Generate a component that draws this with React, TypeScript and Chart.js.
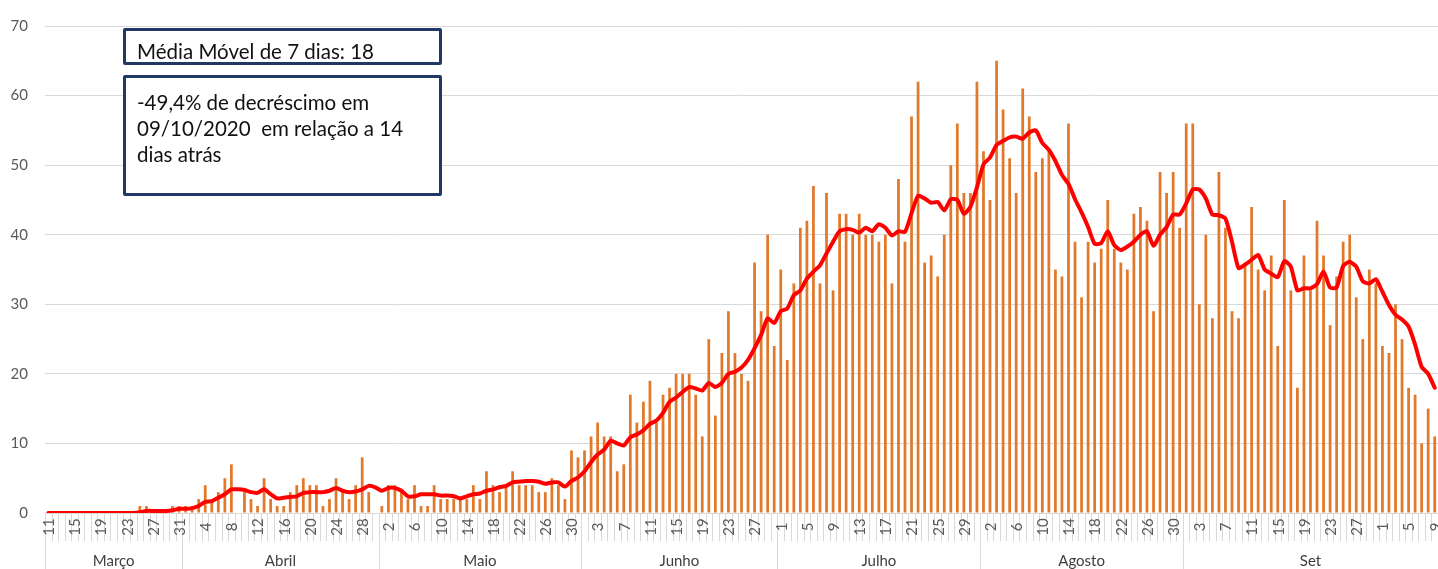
import { useEffect, useRef } from 'react';
import { Chart, registerables } from 'chart.js';

Chart.register(...registerables);

// Month groups on the lower axis band, with day ranges of each group
const groupNames = ['Março', 'Abril', 'Maio', 'Junho', 'Julho', 'Agosto', 'Set'];
const groupRanges: number[][][] = [
  [[11, 31]],
  [[1, 30]],
  [[1, 31]],
  [[1, 30]],
  [[1, 31]],
  [[1, 31]],
  [[1, 30], [1, 9]],
];
const dayLabelStep = 4;

// Daily values (bars)
const casesMar = [0, 0, 0, 0, 0, 0, 0, 0, 0, 0, 0, 0, 0, 0, 1, 1, 0, 0, 0, 1, 1];
const casesApr = [1, 1, 2, 4, 2, 3, 5, 7, 0, 3, 2, 1, 5, 2, 1, 1, 3, 4, 5, 4, 4, 1, 2, 5, 3, 2, 4, 8, 3, 0];
const casesMay = [1, 4, 4, 3, 2, 4, 1, 1, 4, 2, 2, 2, 2, 2, 4, 2, 6, 4, 3, 4, 6, 4, 4, 4, 3, 3, 5, 4, 2, 9, 8];
const casesJun = [9, 11, 13, 11, 11, 6, 7, 17, 13, 16, 19, 13, 17, 18, 20, 20, 20, 17, 11, 25, 14, 23, 29, 23, 20, 19, 36, 29, 40, 24];
const casesJul = [35, 22, 33, 41, 42, 47, 33, 46, 32, 43, 43, 40, 43, 40, 40, 39, 40, 33, 48, 39, 57, 62, 36, 37, 34, 40, 50, 56, 46, 46, 62];
const casesAug = [52, 45, 65, 58, 51, 46, 61, 57, 49, 51, 52, 35, 34, 56, 39, 31, 39, 36, 38, 45, 38, 36, 35, 43, 44, 42, 29, 49, 46, 49, 41];
const casesSep = [56, 56, 30, 40, 28, 49, 41, 29, 28, 36, 44, 35, 32, 37, 24, 45, 32, 18, 37, 32, 42, 37, 27, 34, 39, 40, 31, 25, 35, 33];
const casesOct = [24, 23, 30, 25, 18, 17, 10, 15, 11];

// 7-day moving average (red line)
const maMar = [0, 0, 0, 0, 0, 0, 0, 0, 0, 0, 0, 0, 0, 0, 0.1, 0.3, 0.3, 0.3, 0.3, 0.4, 0.6];
const maApr = [0.6, 0.7, 1.0, 1.6, 1.7, 2.2, 2.7, 3.4, 3.4, 3.3, 3.0, 2.9, 3.4, 2.7, 2.1, 2.2, 2.3, 2.4, 2.9, 3.0, 3.0, 3.0, 3.2, 3.6, 3.2, 3.0, 3.1, 3.4, 3.9, 3.7];
const maMay = [3.2, 3.6, 3.6, 3.2, 2.4, 2.4, 2.7, 2.7, 2.7, 2.5, 2.5, 2.4, 2.1, 2.4, 2.7, 2.8, 3.2, 3.4, 3.7, 3.9, 4.4, 4.5, 4.6, 4.6, 4.5, 4.2, 4.4, 4.4, 3.8, 4.6, 5.1];
const maJun = [6.0, 7.3, 8.4, 9.1, 10.4, 10.0, 9.7, 10.9, 11.3, 11.9, 12.8, 13.3, 14.4, 16.0, 16.6, 17.4, 18.1, 17.9, 17.6, 18.7, 18.1, 18.7, 20.0, 20.3, 20.9, 22.0, 23.7, 25.6, 28.0, 27.3];
const maJul = [29.0, 29.4, 31.3, 32.0, 33.7, 34.7, 35.6, 37.3, 39.0, 40.5, 40.8, 40.7, 40.3, 41.0, 40.5, 41.5, 41.0, 39.9, 40.5, 40.4, 43.1, 45.6, 45.2, 44.6, 44.7, 43.5, 45.1, 45.0, 43.0, 44.0, 46.8];
const maAug = [50.1, 51.1, 52.9, 53.5, 54.0, 54.1, 53.8, 54.7, 55.0, 53.2, 52.2, 50.6, 48.6, 47.3, 45.1, 43.2, 41.1, 38.7, 38.8, 40.5, 38.5, 37.8, 38.3, 39.0, 40.0, 40.5, 38.4, 40.0, 41.1, 42.9, 42.9];
const maSep = [44.5, 46.5, 46.5, 45.2, 42.9, 42.8, 42.3, 39.0, 35.2, 35.7, 36.4, 37.1, 35.0, 34.4, 33.9, 36.2, 35.4, 32.0, 32.3, 32.3, 32.9, 34.7, 32.4, 32.4, 35.5, 36.1, 35.4, 33.3, 33.0, 33.6];
const maOct = [31.8, 29.9, 28.5, 27.8, 26.8, 24.2, 21.0, 20.0, 18.0];

const yMin = 0;
const yMax = 70;
const yStep = 10;

const boxTitle = 'Média Móvel de 7 dias: 18';
const boxLines = ['-49,4% de decréscimo em', '09/10/2020  em relação a 14', 'dias atrás'];

const cases = [...casesMar, ...casesApr, ...casesMay, ...casesJun, ...casesJul, ...casesAug, ...casesSep, ...casesOct];
const movingAvg = [...maMar, ...maApr, ...maMay, ...maJun, ...maJul, ...maAug, ...maSep, ...maOct];

const categories: string[] = [];
const groupOf: number[] = [];
groupRanges.forEach((ranges, g) => {
  ranges.forEach(([a, b]) => {
    for (let d = a; d <= b; d++) {
      categories.push(String(d));
      groupOf.push(g);
    }
  });
});

const FONT = 'Lato, "Open Sans", sans-serif';
const AXIS_H = 56;
const DAY_BAND = 28;

const twoLevelAxis = {
  id: 'twoLevelAxis',
  afterDraw(chart: any) {
    const { ctx, chartArea } = chart;
    const xs = chart.scales.x;
    const n = categories.length;
    const w = (chartArea.right - chartArea.left) / n;
    const top = chartArea.bottom;
    ctx.save();
    ctx.strokeStyle = '#d9d9d9';
    ctx.lineWidth = 1;
    for (let i = 0; i <= n; i++) {
      const xx = Math.round(chartArea.left + i * w) + 0.5;
      ctx.beginPath();
      ctx.moveTo(xx, top);
      ctx.lineTo(xx, top + DAY_BAND);
      ctx.stroke();
    }
    // month separators
    const bounds: number[] = [0];
    for (let i = 1; i < n; i++) if (groupOf[i] !== groupOf[i - 1]) bounds.push(i);
    bounds.push(n);
    bounds.forEach((b) => {
      const xx = Math.round(chartArea.left + b * w) + 0.5;
      ctx.beginPath();
      ctx.moveTo(xx, top);
      ctx.lineTo(xx, top + AXIS_H);
      ctx.stroke();
    });
    // day labels
    ctx.fillStyle = '#595959';
    ctx.font = `15px ${FONT}`;
    ctx.textAlign = 'center';
    ctx.textBaseline = 'middle';
    for (let i = 0; i < n; i += dayLabelStep) {
      const cx = xs.getPixelForValue(i);
      ctx.save();
      ctx.translate(cx + 1, top + 14);
      ctx.rotate(-Math.PI / 2);
      ctx.fillText(categories[i], 0, 0);
      ctx.restore();
    }
    // month labels
    ctx.fillStyle = '#404040';
    ctx.font = `15px ${FONT}`;
    for (let k = 0; k < bounds.length - 1; k++) {
      const a = chartArea.left + bounds[k] * w;
      const b = chartArea.left + bounds[k + 1] * w;
      ctx.fillText(groupNames[groupOf[bounds[k]]], (a + b) / 2, top + 48);
    }
    ctx.restore();
  },
};

export default function App() {
  const ref = useRef<HTMLCanvasElement | null>(null);
  useEffect(() => {
    if (!ref.current) return;
    const chart = new Chart(ref.current, {
      type: 'bar',
      data: {
        labels: categories,
        datasets: [
          {
            type: 'line',
            data: movingAvg,
            borderColor: '#FF0000',
            borderWidth: 4,
            pointRadius: 0,
            tension: 0.2,
            borderJoinStyle: 'round',
            borderCapStyle: 'round',
            order: 1,
          } as any,
          {
            type: 'bar',
            data: cases,
            backgroundColor: '#E2792A',
            barPercentage: 0.42,
            categoryPercentage: 1,
            order: 2,
          },
        ],
      },
      options: {
        responsive: false,
        animation: false,
        layout: { padding: { top: 23, left: 0, right: 0, bottom: 0 } },
        plugins: { legend: { display: false }, tooltip: { enabled: false } },
        scales: {
          x: {
            offset: true,
            grid: { display: false },
            border: { display: false },
            ticks: { display: false },
            afterFit: (s: any) => {
              s.height = AXIS_H;
            },
          },
          y: {
            min: yMin,
            max: yMax,
            ticks: { stepSize: yStep, color: '#595959', font: { family: FONT, size: 15 }, padding: 17 },
            grid: { color: '#d9d9d9', drawTicks: false },
            border: { display: false },
            afterFit: (s: any) => {
              s.width = 45;
            },
          },
        },
      },
      plugins: [twoLevelAxis],
    });
    return () => chart.destroy();
  }, []);

  const textStyle: any = {
    position: 'absolute',
    left: 137,
    fontFamily: FONT,
    fontSize: 20.5,
    lineHeight: '26px',
    color: '#111',
    whiteSpace: 'pre',
  };
  const boxStyle: any = {
    position: 'absolute',
    left: 123,
    width: 319,
    boxSizing: 'border-box',
    border: '3px solid #203864',
    borderRadius: 2,
    background: '#fff',
  };

  return (
    <div style={{ position: 'fixed', left: 0, top: 0, width: 1438, height: 569, background: '#fff', overflow: 'hidden' }}>
      <canvas ref={ref} width={1438} height={569} style={{ display: 'block' }} />
      <div style={{ ...boxStyle, top: 28, height: 37 }} />
      <div style={{ ...boxStyle, top: 75, height: 121 }} />
      <div style={{ ...textStyle, top: 38 }}>{boxTitle}</div>
      <div style={{ ...textStyle, top: 89 }}>{boxLines.join('\n')}</div>
    </div>
  );
}
